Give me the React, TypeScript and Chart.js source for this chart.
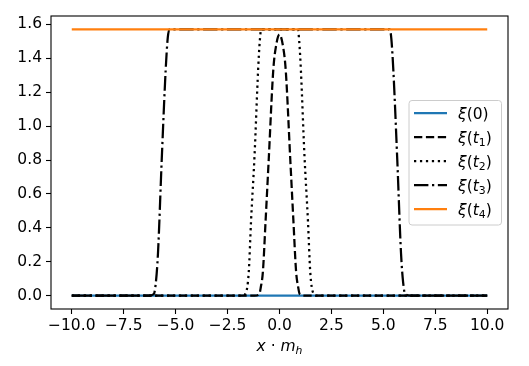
import React, { useEffect, useRef } from 'react';
import { Chart, registerables } from 'chart.js';

Chart.register(...registerables);

const FONT = '"DejaVu Sans", sans-serif';

// tick labels
const xTicks = [-10, -7.5, -5, -2.5, 0, 2.5, 5, 7.5, 10];
const yTicks = [0, 0.2, 0.4, 0.6, 0.8, 1.0, 1.2, 1.4, 1.6];

// series names
const seriesLabels = ['ξ(0)', 'ξ(t₁)', 'ξ(t₂)', 'ξ(t₃)', 'ξ(t₄)'];
const xAxisTitle = 'x · mₕ';

// ξ(0)
const xi0X = [-10, 10];
const xi0Y = [0, 0];

// ξ(t1) dashed bump
const xi1X = [-10, -1.2, -0.97, -0.9, -0.8, -0.67, -0.52, -0.3, -0.17, 0, 0.17, 0.3, 0.52, 0.67, 0.8, 0.9, 0.97, 1.2, 10];
const xi1Y = [0, 0, 0.01, 0.05, 0.14, 0.44, 0.8, 1.33, 1.47, 1.54, 1.47, 1.33, 0.8, 0.44, 0.14, 0.05, 0.01, 0, 0];

// ξ(t2) dotted plateau
const xi2X = [-10, -1.8, -1.61, -1.48, -1.37, -1.2, -1.03, -0.95, -0.88, 0.88, 0.95, 1.03, 1.2, 1.37, 1.48, 1.61, 1.8, 10];
const xi2Y = [0, 0, 0.02, 0.14, 0.44, 0.83, 1.33, 1.5, 1.5708, 1.5708, 1.5, 1.33, 0.83, 0.44, 0.14, 0.02, 0, 0];

// ξ(t3) dash-dot wide plateau
const xi3X = [-10, -6.3, -6.05, -5.95, -5.85, -5.67, -5.48, -5.38, -5.3, 5.3, 5.38, 5.48, 5.67, 5.85, 5.95, 6.05, 6.3, 10];
const xi3Y = [0, 0, 0.01, 0.08, 0.25, 0.8, 1.33, 1.52, 1.5708, 1.5708, 1.52, 1.33, 0.8, 0.25, 0.08, 0.01, 0, 0];

// ξ(t4)
const xi4X = [-10, 10];
const xi4Y = [1.5708, 1.5708];

const LW = 2.25;
const TICK_SIZE = 15.5;
const styles = [
  { color: '#1f77b4', dash: [] as number[] },
  { color: '#000000', dash: [8.3, 3.6] },
  { color: '#000000', dash: [2.25, 3.7] },
  { color: '#000000', dash: [14.4, 3.6, 2.25, 3.6] },
  { color: '#ff7f0e', dash: [] as number[] },
];

const toPts = (xs: number[], ys: number[]) => xs.map((x, i) => ({ x, y: ys[i] }));

const fmtX = (v: number) => (v < 0 ? '\u2212' : '') + Math.abs(v).toFixed(1);
const fmtY = (v: number) => (v < 0 ? '\u2212' : '') + Math.abs(v).toFixed(1);

const SUBS: Record<string, string> = { '₀': '0', '₁': '1', '₂': '2', '₃': '3', '₄': '4', 'ₕ': 'h' };

function drawMath(ctx: CanvasRenderingContext2D, text: string, x: number, baseline: number, size: number, align: 'left' | 'center') {
  const pieces = Array.from(text).map((ch) => {
    if (SUBS[ch] !== undefined) {
      const sub = SUBS[ch];
      const italic = /[a-zξ]/.test(sub);
      return { t: sub, font: `${italic ? 'italic ' : ''}${size * 0.7}px ${FONT}`, dy: size * 0.2 };
    }
    const italic = /[a-zξ]/.test(ch);
    return { t: ch, font: `${italic ? 'italic ' : ''}${size}px ${FONT}`, dy: 0 };
  });
  let total = 0;
  const widths = pieces.map((p) => {
    ctx.font = p.font;
    const w = ctx.measureText(p.t).width;
    total += w;
    return w;
  });
  let cx = align === 'center' ? x - total / 2 : x;
  ctx.textBaseline = 'alphabetic';
  ctx.textAlign = 'left';
  pieces.forEach((p, i) => {
    ctx.font = p.font;
    ctx.fillText(p.t, cx, baseline + p.dy);
    cx += widths[i];
  });
}

const framePlugin = {
  id: 'frame',
  afterDatasetsDraw(chart: any) {
    const { ctx, chartArea } = chart;
    ctx.save();
    ctx.strokeStyle = '#000';
    ctx.lineWidth = 1.1;
    ctx.strokeRect(chartArea.left, chartArea.top, chartArea.right - chartArea.left, chartArea.bottom - chartArea.top);
    ctx.restore();
  },
};

const legendPlugin = {
  id: 'mplLegend',
  afterDraw(chart: any) {
    const { ctx, chartArea } = chart;
    const left = chartArea.right - 99;
    const top = chartArea.top + 84.5;
    const w = 92.5;
    const h = 124.5;
    ctx.save();
    ctx.beginPath();
    if ((ctx as any).roundRect) (ctx as any).roundRect(left, top, w, h, 3);
    else ctx.rect(left, top, w, h);
    ctx.fillStyle = 'rgba(255,255,255,0.8)';
    ctx.fill();
    ctx.strokeStyle = '#cccccc';
    ctx.lineWidth = 1;
    ctx.stroke();
    seriesLabels.forEach((lab, i) => {
      const y = top + 12.5 + i * 24;
      const st = styles[i];
      ctx.beginPath();
      ctx.setLineDash(st.dash);
      ctx.strokeStyle = st.color;
      ctx.lineWidth = LW;
      ctx.moveTo(left + 5, y);
      ctx.lineTo(left + 38, y);
      ctx.stroke();
      ctx.setLineDash([]);
      ctx.fillStyle = '#000';
      drawMath(ctx, lab, left + 49, y + 5.5, 15.5, 'left');
    });
    ctx.restore();
  },
};

const xTitlePlugin = {
  id: 'xTitle',
  afterDraw(chart: any) {
    const { ctx, chartArea } = chart;
    ctx.save();
    ctx.fillStyle = '#000';
    drawMath(ctx, xAxisTitle, (chartArea.left + chartArea.right) / 2, 351, 15.5, 'center');
    ctx.restore();
  },
};

export default function App() {
  const ref = useRef<HTMLCanvasElement | null>(null);
  useEffect(() => {
    if (!ref.current) return;
    const series = [
      toPts(xi0X, xi0Y),
      toPts(xi1X, xi1Y),
      toPts(xi2X, xi2Y),
      toPts(xi3X, xi3Y),
      toPts(xi4X, xi4Y),
    ];
    const chart = new Chart(ref.current, {
      type: 'line',
      data: {
        datasets: series.map((data, i) => ({
          label: seriesLabels[i],
          data,
          borderColor: styles[i].color,
          backgroundColor: styles[i].color,
          borderDash: styles[i].dash,
          borderWidth: LW,
          pointRadius: 0,
          fill: false,
          cubicInterpolationMode: 'monotone' as const,
          order: 5 - i,
        })),
      },
      options: {
        responsive: false,
        animation: false,
        devicePixelRatio: 1,
        layout: { padding: { left: 0, right: 21, top: 16, bottom: 0 } },
        plugins: { legend: { display: false }, tooltip: { enabled: false } },
        scales: {
          x: {
            type: 'linear',
            min: -11,
            max: 11,
            afterBuildTicks: (s: any) => {
              s.ticks = xTicks.map((v) => ({ value: v }));
            },
            afterFit: (s: any) => {
              s.height = 57;
            },
            grid: { drawOnChartArea: false, drawTicks: true, tickLength: 5, tickColor: '#000', tickWidth: 1.1 },
            border: { display: false },
            ticks: {
              autoSkip: false,
              maxRotation: 0,
              color: '#000',
              padding: 3,
              font: { family: FONT, size: TICK_SIZE },
              callback: (v: any) => fmtX(Number(v)),
            },
          },
          y: {
            type: 'linear',
            min: -0.0785,
            max: 1.6493,
            afterBuildTicks: (s: any) => {
              s.ticks = yTicks.map((v) => ({ value: v }));
            },
            afterFit: (s: any) => {
              s.width = 51;
            },
            grid: { drawOnChartArea: false, drawTicks: true, tickLength: 5, tickColor: '#000', tickWidth: 1.1 },
            border: { display: false },
            ticks: {
              autoSkip: false,
              color: '#000',
              padding: 4,
              font: { family: FONT, size: TICK_SIZE },
              callback: (v: any) => fmtY(Number(v)),
            },
          },
        },
      },
      plugins: [framePlugin, legendPlugin, xTitlePlugin],
    } as any);
    return () => chart.destroy();
  }, []);
  return (
    <div style={{ position: 'absolute', left: 0, top: 0, width: 529, height: 366, background: '#fff' }}>
      <canvas ref={ref} width={529} height={366} style={{ display: 'block', width: 529, height: 366 }} />
    </div>
  );
}
